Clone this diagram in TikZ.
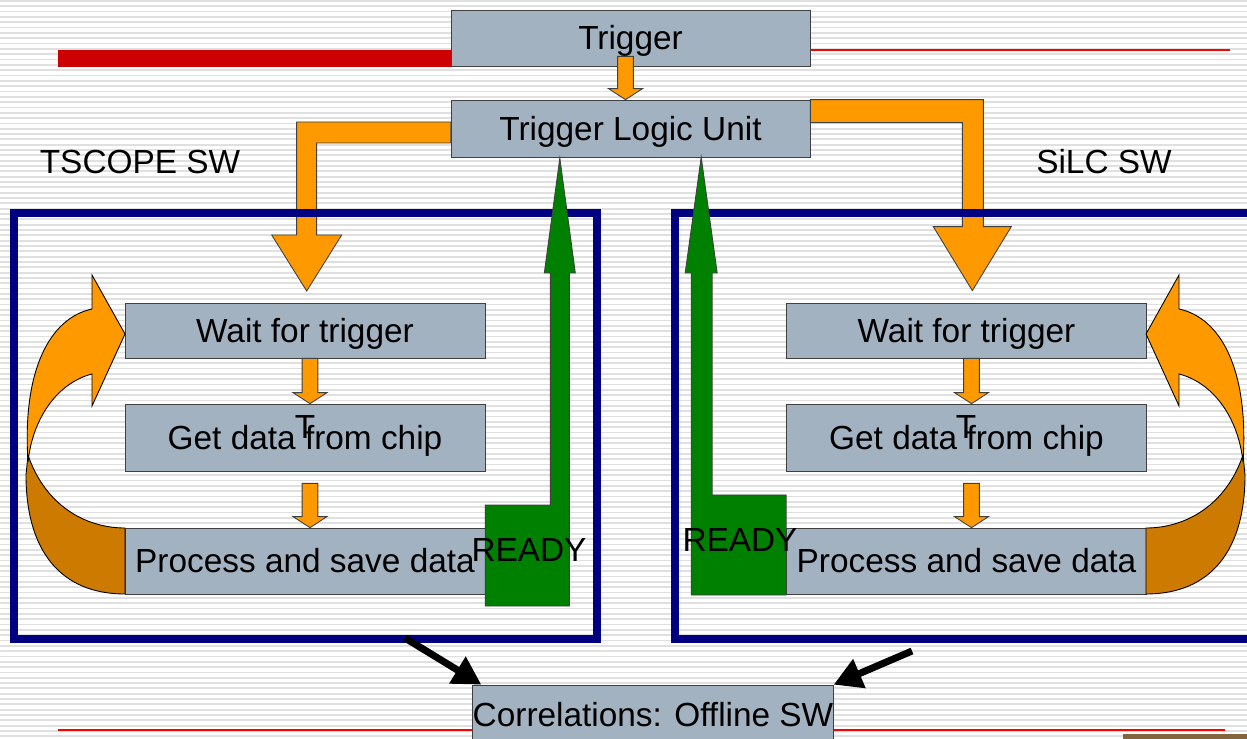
\documentclass[tikz,border=0pt]{standalone}
\usepackage{fontspec}
\setmainfont{Liberation Sans}
\usetikzlibrary{arrows.meta,calc}
\definecolor{cSlate}{RGB}{163,178,193}
\definecolor{cEdge}{RGB}{64,64,64}
\definecolor{cAmber}{RGB}{255,153,0}
\definecolor{cAmberDk}{RGB}{204,122,0}
\definecolor{cNavy}{RGB}{0,0,128}
\definecolor{cLeaf}{RGB}{0,128,0}
\definecolor{cBar}{RGB}{204,0,0}
\definecolor{cStripe}{RGB}{224,224,224}
\definecolor{cPhoto}{RGB}{132,100,62}
\tikzset{
  txt/.style={font=\fontsize{19}{23}\selectfont},
  unitbox/.style={rectangle,draw=cEdge,fill=cSlate,inner sep=0pt,txt,
                  text height=13.6pt,text depth=0pt,
                  minimum width=7.18cm,minimum height=1.12cm},
  stagebox/.style={unitbox,minimum width=7.2cm},
  swframe/.style={draw=cNavy,line width=5pt,inner sep=0pt},
  amberarr/.style={fill=cAmber,draw=cEdge,line width=0.5pt},
  loopback/.style={fill=cAmberDk,draw=black,line width=0.5pt},
  readyarr/.style={fill=cLeaf,draw=cEdge,line width=0.5pt},
  blkarr/.style={-{Triangle[length=16pt,width=17pt]},line width=4pt,black}
}
% short block arrow straight down: from #1 to the height of #2
\newcommand{\stepdown}[2]{%
  \draw[amberarr] let \p1=(#1), \p2=(#2) in
    (\x1-4.5pt,\y1) -- (\x1+4.5pt,\y1) -- (\x1+4.5pt,\y2+6.3pt)
    -- (\x1+9.7pt,\y2+6.3pt) -- (\x1,\y2) -- (\x1-9.7pt,\y2+6.3pt)
    -- (\x1-4.5pt,\y2+6.3pt) -- cycle;}
% curved arrow from the last stage back to the first
\newcommand{\loopshape}{%
  \draw[loopback] (28,455) .. controls (45,505) and (85,528) .. (125,528)
    -- (125,594) .. controls (60,594) and (26,550) .. (26,475) -- cycle;
  \draw[amberarr,draw=black] (28,462) .. controls (22,370) and (50,318) .. (92,309)
    -- (92,275) -- (125,334) -- (92,406) -- (92,374)
    .. controls (60,382) and (33,415) .. (28,462) -- cycle;}

\begin{document}
\begin{tikzpicture}[x=0.02cm,y=-0.02cm]
  \clip (0,0) rectangle (1247,739);
  \fill[white] (0,0) rectangle (1247,739);
  \foreach \r in {0,...,138}
    \draw[cStripe,line width=1pt] (0,{0.8+\r*5.33}) -- (1247,{0.8+\r*5.33});

  % slide rules
  \fill[cBar] (58,50) rectangle (451,67);
  \draw[red,line width=0.6pt] (810,50) -- (1230,50);
  \draw[red,line width=0.6pt] (58,730) -- (1225,730);
  \fill[cPhoto] (1123,734) rectangle (1247,739);

  % trigger chain
  \node[unitbox] (trig) at (630.5,38) {Trigger};
  \node[unitbox,minimum height=1.14cm] (tlu) at (630.5,128.5) {Trigger Logic Unit};
  \stepdown{$(trig.south)+(-5,-10)$}{tlu.north}

  \draw[amberarr] ($(tlu.west)+(0,-6.5)$) -- ++(-154,0) -- ++(0,113)
    -- ++(-25,0) -- ++(35,56) -- ++(35,-56) -- ++(-25,0) -- ++(0,-92)
    -- ++(134,0) -- cycle;
  \draw[amberarr] (tlu.north east) -- ++(173,0) -- ++(0,127) -- ++(28,0)
    -- ++(-39,64) -- ++(-39,-64) -- ++(29,0) -- ++(0,-104) -- ++(-152,0) -- cycle;

  % software frames
  \node[swframe,minimum width=11.66cm,minimum height=8.52cm] (tsframe) at (305.5,426) {};
  \node[swframe,minimum width=11.7cm,minimum height=8.52cm] (silcframe) at (967.5,426) {};
  \node[txt] (tslabel) at (140,162) {TSCOPE SW};
  \node[txt] (silclabel) at (1104,162) {SiLC SW};

  % TSCOPE loop
  \node[stagebox,minimum height=1.1cm] (waitL) at (305,330.5) {Wait for trigger};
  \node[stagebox,minimum height=1.34cm] (getL) at (305,437.5) {Get data from chip};
  \node[stagebox,minimum height=1.32cm] (procL) at (305,561) {Process and save data};
  \stepdown{$(waitL.south)+(5,0)$}{getL.north}
  \stepdown{$(getL.south)+(5,12)$}{procL.north}
  \node[txt] (tmarkL) at (305,427) {T};

  % SiLC loop
  \node[stagebox,minimum height=1.1cm] (waitR) at (966.5,330.5) {Wait for trigger};
  \node[stagebox,minimum height=1.34cm] (getR) at (966.5,437.5) {Get data from chip};
  \node[stagebox,minimum height=1.32cm] (procR) at (966.5,561) {Process and save data};
  \stepdown{$(waitR.south)+(5,0)$}{getR.north}
  \stepdown{$(getR.south)+(5,12)$}{procR.north}
  \node[txt] (tmarkR) at (966,427) {T};

  \loopshape
  \begin{scope}[shift={(1271,0)},xscale=-1]
    \loopshape
  \end{scope}

  % READY lines back to the logic unit
  \draw[readyarr] ($(procL.east)+(0,45)$) -- ++(84,0) -- ++(0,-333) -- ++(6,0)
    -- ++(-15.5,-115) -- ++(-15.5,115) -- ++(6,0) -- ++(0,232) -- ++(-65,0) -- cycle;
  \draw[readyarr] ($(procR.west)+(0,34)$) -- ++(-95,0) -- ++(0,-322) -- ++(-6,0)
    -- ++(16,-116) -- ++(16,116) -- ++(-5,0) -- ++(0,222) -- ++(74,0) -- cycle;
  \node[txt] (readyL) at (529,550) {READY};
  \node[txt] (readyR) at (740,540) {READY};

  % offline analysis
  \node[unitbox,minimum width=7.16cm,minimum height=1.2cm] (corr) at (653,715)
    {Correlations: Offline SW};
  \coordinate (tsout) at (405,638);
  \coordinate (silcout) at (912,651);
  \draw[blkarr] (tsout) -- ([xshift=0.18cm]corr.north west);
  \draw[blkarr] (silcout) -- (corr.north east);
\end{tikzpicture}
\end{document}
